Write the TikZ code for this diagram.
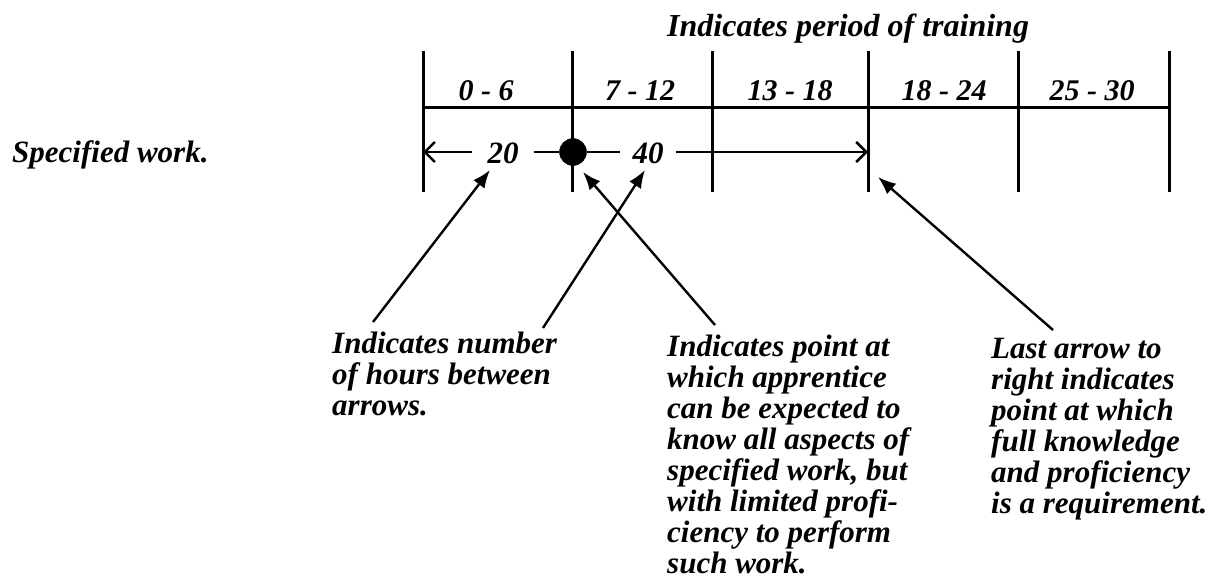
\documentclass[tikz,border=0pt]{standalone}
\usepackage{fontspec}
\setmainfont{Liberation Serif}
\usetikzlibrary{arrows.meta}
\tikzset{
  txt/.style={font=\fontsize{31}{31}\selectfont\bfseries\itshape, inner sep=0pt, align=left},
  rng/.style={font=\fontsize{30}{30}\selectfont\bfseries\itshape, inner sep=0pt, anchor=base},
  grid/.style={line width=3pt},
  tline/.style={line width=2.6pt},
  barb/.style={tline, -{Straight Barb[length=10pt,width=20pt]}},
  note/.style={line width=2.4pt, -{Latex[length=18pt,width=14pt]}},
}
\begin{document}
\begin{tikzpicture}[x=1pt,y=-1pt]
\useasboundingbox (0,0) rectangle (1225,579);
% title
\node[txt, font=\fontsize{32}{32}\selectfont\bfseries\itshape, anchor=base west] (title) at (667,36) {Indicates period of training};
% grid
\foreach \x/\n in {423/v0,572/v1,712/v2,868/v3,1018/v4,1169/v5}{
  \coordinate (\n t) at (\x,51);
  \coordinate (\n b) at (\x,192);
  \draw[grid] (\n t) -- (\n b);
}
\coordinate (hl) at (423,107);
\coordinate (hr) at (1169,107);
\draw[grid] (hl) -- (hr);
% ranges
\node[rng] (r1) at (486,100) {0 - 6};
\node[rng] (r2) at (640,100) {7 - 12};
\node[rng] (r3) at (790,100) {13 - 18};
\node[rng] (r4) at (944,100) {18 - 24};
\node[rng] (r5) at (1092,100) {25 - 30};
% specified work
\node[txt, anchor=base west] (spec) at (12,162) {Specified work.};
% timeline arrows
\coordinate (a0) at (423,152);
\coordinate (a1) at (868,152);
\node[txt, anchor=base, inner xsep=15pt] (n20) at (503,163) {20};
\node[circle, fill=black, draw=black, minimum size=27pt, inner sep=0pt] (circ) at (573,152) {};
\node[txt, anchor=base, inner xsep=12pt] (n40) at (648,163) {40};
\draw[barb] (n20.west |- a0) -- (a0);
\draw[tline] (n20.east |- a0) -- (circ);
\draw[tline] (circ) -- (n40.west |- a0);
\draw[barb] (n40.east |- a0) -- (a1);
% notes (base anchor = baseline of last line)
\node[txt, anchor=base west] (t1) at (332,415) {Indicates number\\of hours between\\arrows.};
\node[txt, anchor=base west] (t2) at (667,573) {Indicates point at\\which apprentice\\can be expected to\\know all aspects of\\specified work, but\\with limited profi-\\ciency to perform\\such work.};
\node[txt, anchor=base west] (t3) at (991,513) {Last arrow to\\right indicates\\point at which\\full knowledge\\and proficiency\\is a requirement.};
\coordinate (s1) at (373,322); \coordinate (e1) at (490,170);
\coordinate (s2) at (543,328); \coordinate (e2) at (645,170);
\coordinate (s3) at (715,325); \coordinate (e3) at (583,172);
\coordinate (s4) at (1053,330); \coordinate (e4) at (878,177);
\draw[note] (s1) -- (e1);
\draw[note] (s2) -- (e2);
\draw[note] (s3) -- (e3);
\draw[note] (s4) -- (e4);
\end{tikzpicture}
\end{document}
